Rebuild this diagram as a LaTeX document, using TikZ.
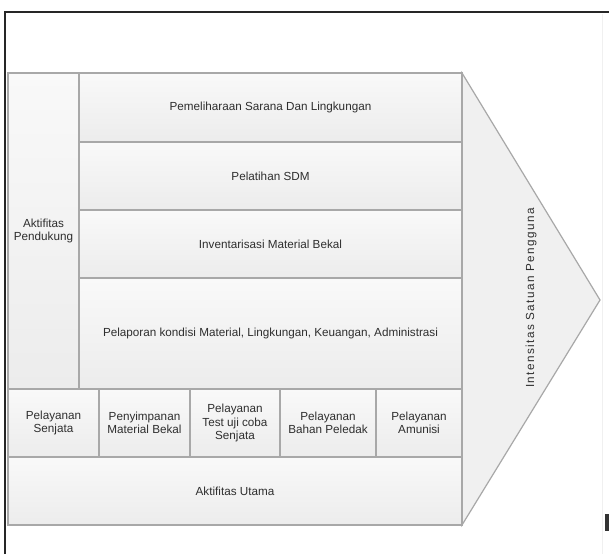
\documentclass[tikz,border=0pt]{standalone}
\usepackage{fontspec}
\setmainfont{Liberation Sans}
\newfontfamily\vfont[LetterSpace=12]{Liberation Sans}
\definecolor{edge}{HTML}{A8A8A8}
\definecolor{txt}{HTML}{2E2E2E}
\definecolor{celltop}{HTML}{F9F9F9}
\definecolor{cellbot}{HTML}{ECECEC}
\definecolor{chev}{HTML}{F0F0F0}
\begin{document}
\begin{tikzpicture}[x=1pt,y=-1pt,
  cell/.style={draw=edge, line width=1.2pt, top color=celltop, bottom color=cellbot,
    inner sep=0pt, text=txt, align=center, font=\fontsize{11.7}{13.5}\selectfont},
  framebar/.style={draw=black!85, line width=1.3pt}]
\fill[white] (0,0) rectangle (609,554);
\useasboundingbox (0,0) rectangle (609,554);
% outer frame
\draw[framebar] (5,554) -- (5,12) -- (609,12);
\draw[gray!12, line width=0.8pt] (602,14) -- (602,554);
\fill[black!80] (605,514) rectangle (609,531);
% chevron
\path[fill=chev, draw=edge, line width=1.2pt] (462,73) -- (600,300) -- (462,525) -- cycle;
\node[rotate=90, text=txt, font=\vfont\fontsize{11.7}{13.5}\selectfont] (intens) at (531,298) {Intensitas Satuan Pengguna};
% cells
\node[cell, minimum width=71pt, minimum height=316pt] (pend) at (43.5,231) {Aktifitas\\Pendukung};
\node[cell, minimum width=383pt, minimum height=69pt] (pem) at (270.5,107.5) {Pemeliharaan Sarana Dan Lingkungan};
\node[cell, minimum width=383pt, minimum height=68pt] (sdm) at (270.5,176) {Pelatihan SDM};
\node[cell, minimum width=383pt, minimum height=68pt] (inv) at (270.5,244) {Inventarisasi Material Bekal};
\node[cell, minimum width=383pt, minimum height=111pt] (lap) at (270.5,333.5) {Pelaporan kondisi Material, Lingkungan, Keuangan, Administrasi};
\node[cell, minimum width=91pt, minimum height=68pt] (s1) at (53.5,423) {Pelayanan\\Senjata};
\node[cell, minimum width=91pt, minimum height=68pt] (s2) at (144.5,423) {Penyimpanan\\Material Bekal};
\node[cell, minimum width=90pt, minimum height=68pt] (s3) at (235,423) {Pelayanan\\Test uji coba\\Senjata};
\node[cell, minimum width=96pt, minimum height=68pt] (s4) at (328,423) {Pelayanan\\Bahan Peledak};
\node[cell, minimum width=86pt, minimum height=68pt] (s5) at (419,423) {Pelayanan\\Amunisi};
\node[cell, minimum width=454pt, minimum height=68pt] (utama) at (235,491) {Aktifitas Utama};
\end{tikzpicture}
\end{document}
